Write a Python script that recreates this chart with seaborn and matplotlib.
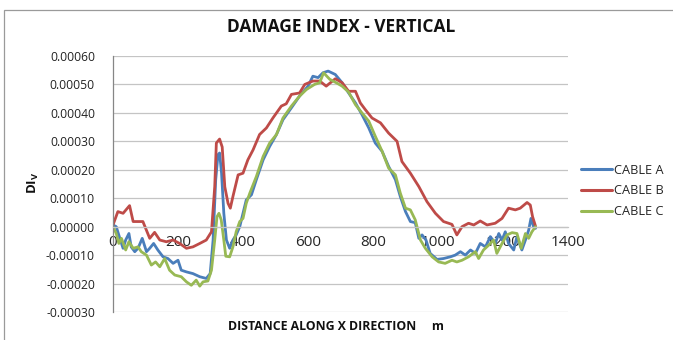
import numpy as np
import pandas as pd
import seaborn as sns
import matplotlib
matplotlib.use("Agg")
import matplotlib.pyplot as plt
from matplotlib.patches import Rectangle

# Damage index (vertical) along the bridge, one series per cable
dist_a = [0, 10, 21, 31, 39, 49, 56, 67, 77, 90, 103, 113, 125, 138, 154, 169, 185, 200, 210,
          226, 246, 267, 287, 299, 308, 316, 323, 328, 334, 341, 349, 359, 369, 379, 390, 400,
          410, 426, 441, 462, 482, 503, 523, 549, 574, 600, 615, 631, 646, 662, 684, 705, 725,
          746, 766, 787, 807, 828, 848, 869, 884, 900, 915, 930, 941, 951, 963, 976, 997, 1017,
          1038, 1053, 1069, 1084, 1100, 1115, 1130, 1146, 1161, 1176, 1187, 1197, 1207, 1217,
          1233, 1243, 1258, 1269, 1279, 1286, 1294, 1300]
di_a = [0.06, 0.0, -0.41, -0.76, -0.47, -0.24, -0.71, -0.88, -0.76, -0.41, -0.88, -0.76, -0.59,
        -0.82, -1.06, -1.12, -1.29, -1.18, -1.53, -1.59, -1.65, -1.76, -1.82, -1.65, -0.47,
        1.65, 2.53, 2.59, 1.88, 0.47, -0.47, -0.76, -0.47, -0.29, 0.0, 0.47, 0.94, 1.12, 1.65,
        2.35, 2.82, 3.24, 3.76, 4.18, 4.59, 4.94, 5.29, 5.24, 5.41, 5.47, 5.35, 5.06, 4.70,
        4.35, 3.94, 3.47, 2.94, 2.65, 2.12, 1.65, 1.06, 0.53, 0.18, 0.14, -0.41, -0.29, -0.47,
        -0.94, -1.15, -1.12, -1.06, -1.00, -0.88, -1.00, -0.82, -0.94, -0.59, -0.71, -0.35,
        -0.59, -0.24, -0.47, -0.18, -0.59, -0.82, -0.35, -0.82, -0.47, -0.12, 0.29, 0.0, -0.06]

dist_b = [0, 15, 31, 51, 62, 92, 113, 128, 144, 164, 185, 205, 226, 246, 267, 287, 303, 313,
          318, 328, 336, 344, 354, 361, 369, 385, 400, 415, 431, 451, 472, 492, 518, 533, 549,
          574, 590, 615, 636, 656, 684, 705, 725, 746, 761, 776, 797, 823, 848, 874, 889, 915,
          941, 966, 992, 1017, 1043, 1058, 1074, 1094, 1110, 1130, 1151, 1176, 1197, 1217, 1238,
          1253, 1274, 1284, 1291, 1300]
di_b = [0.06, 0.53, 0.47, 0.74, 0.18, 0.18, -0.41, -0.20, -0.47, -0.53, -0.47, -0.59, -0.76,
        -0.71, -0.59, -0.47, -0.18, 1.40, 2.94, 3.08, 2.80, 1.40, 0.82, 0.65, 1.06, 1.82, 1.88,
        2.35, 2.70, 3.24, 3.47, 3.82, 4.24, 4.32, 4.65, 4.70, 5.00, 5.12, 5.12, 4.94, 5.20,
        5.06, 4.76, 4.76, 4.35, 4.12, 3.82, 3.65, 3.29, 3.00, 2.29, 1.88, 1.41, 0.88, 0.47,
        0.18, 0.08, -0.29, 0.0, 0.12, 0.06, 0.20, 0.06, 0.12, 0.29, 0.65, 0.59, 0.65, 0.85,
        0.76, 0.35, 0.02]

dist_c = [0, 10, 18, 26, 39, 49, 62, 77, 87, 103, 118, 131, 144, 159, 174, 190, 210, 226, 241,
          256, 267, 277, 292, 303, 313, 320, 326, 333, 341, 347, 359, 369, 379, 390, 400, 410,
          421, 441, 462, 482, 503, 523, 549, 574, 595, 620, 636, 648, 667, 687, 705, 725, 746,
          766, 787, 807, 828, 848, 869, 884, 900, 915, 930, 946, 961, 982, 1002, 1022, 1043,
          1058, 1074, 1094, 1115, 1125, 1140, 1156, 1171, 1181, 1197, 1212, 1228, 1243, 1256,
          1269, 1279, 1289, 1300]
di_c = [0.0, -0.24, -0.59, -0.41, -0.82, -0.53, -0.76, -0.71, -0.88, -1.00, -1.35, -1.24,
        -1.41, -1.12, -1.53, -1.70, -1.76, -1.94, -2.06, -1.88, -2.09, -1.94, -1.91, -1.53,
        -0.47, 0.35, 0.47, 0.24, -0.47, -1.04, -1.06, -0.71, -0.18, 0.18, 0.29, 0.82, 1.18,
        1.76, 2.47, 2.94, 3.24, 3.82, 4.24, 4.59, 4.82, 5.00, 5.06, 5.41, 5.18, 5.06, 4.94,
        4.73, 4.29, 4.00, 3.71, 3.18, 2.65, 2.06, 1.82, 1.18, 0.65, 0.59, 0.24, -0.47, -0.76,
        -1.06, -1.24, -1.29, -1.18, -1.24, -1.18, -1.06, -0.88, -1.12, -0.82, -0.65, -0.47,
        -0.94, -0.59, -0.29, -0.21, -0.24, -0.76, -0.24, -0.41, -0.18, 0.0]

cables = ["CABLE A", "CABLE B", "CABLE C"]
colors = ["#4A7EBB", "#BE4B48", "#98B954"]

x_ticks = [0, 200, 400, 600, 800, 1000, 1200, 1400]
y_ticks = [-0.0003, -0.0002, -0.0001, 0.0, 0.0001, 0.0002, 0.0003, 0.0004, 0.0005, 0.0006]

frames = []
for name, xs, ys in zip(cables, [dist_a, dist_b, dist_c], [di_a, di_b, di_c]):
    frames.append(pd.DataFrame({"distance": xs,
                                "di": np.array(ys) * 1e-4,
                                "cable": name}))
df = pd.concat(frames, ignore_index=True)

sns.set_theme(style="white")
plt.rcParams["font.family"] = ["Open Sans", "DejaVu Sans"]

fig = plt.figure(figsize=(6.73, 3.40), dpi=100)
ax = fig.add_axes([113 / 673, 1 - 312 / 340, (568 - 113) / 673, (312 - 56) / 340])

# chart-area frame
fig.patches.append(Rectangle((4 / 673, -0.2), 1.2, 1.2 - 9.5 / 340,
                             transform=fig.transFigure, fill=False,
                             edgecolor="#9a9a9a", linewidth=0.9))

sns.lineplot(data=df, x="distance", y="di", hue="cable", palette=colors,
             estimator=None, sort=False, linewidth=2.0, ax=ax, legend=False)

ax.set_xlim(0, 1400)
ax.set_ylim(-0.0003, 0.0006)
ax.set_xticks(x_ticks)
ax.set_yticks(y_ticks)
ax.set_yticklabels([f"{v:.5f}" for v in y_ticks], fontsize=8.7, color="#222222")
ax.set_xticklabels([str(v) for v in x_ticks], fontsize=8.7, color="#222222")
ax.yaxis.grid(True, color="#c4c4c4", linewidth=0.9)
ax.set_axisbelow(True)
ax.tick_params(axis="both", length=0)
ax.tick_params(axis="y", pad=13)
ax.tick_params(axis="x", pad=6)

for side in ["top", "right"]:
    ax.spines[side].set_visible(False)
ax.spines["left"].set_color("#868686")
ax.spines["left"].set_linewidth(0.9)
ax.spines["bottom"].set_position(("data", 0))
ax.spines["bottom"].set_color("#c4c4c4")
ax.spines["bottom"].set_linewidth(0.9)

ax.set_xlabel("")
ax.set_ylabel("")

fig.text(341 / 673, 1 - 27 / 340, "DAMAGE INDEX - VERTICAL", ha="center", va="center",
         fontsize=12.5, fontweight="bold", color="#111111")
fig.text(336 / 673, 1 - 326 / 340, "DISTANCE ALONG X DIRECTION     m", ha="center",
         va="center", fontsize=8.8, fontweight="bold", color="#111111")
fig.text(33 / 673, 1 - 183 / 340, r"DI$_\mathregular{V}$", ha="center", va="center",
         rotation=90, fontsize=9.5, fontweight="bold", color="#111111")

handles = [plt.Line2D([], [], color=c, linewidth=2.2) for c in colors]
fig.legend(handles, cables, loc="center left", bbox_to_anchor=(576 / 673, 1 - 191 / 340),
           frameon=False, fontsize=9.2, handlelength=2.4, handletextpad=0.2,
           labelspacing=0.6, borderaxespad=0)

fig.savefig("out.png", dpi=100)
